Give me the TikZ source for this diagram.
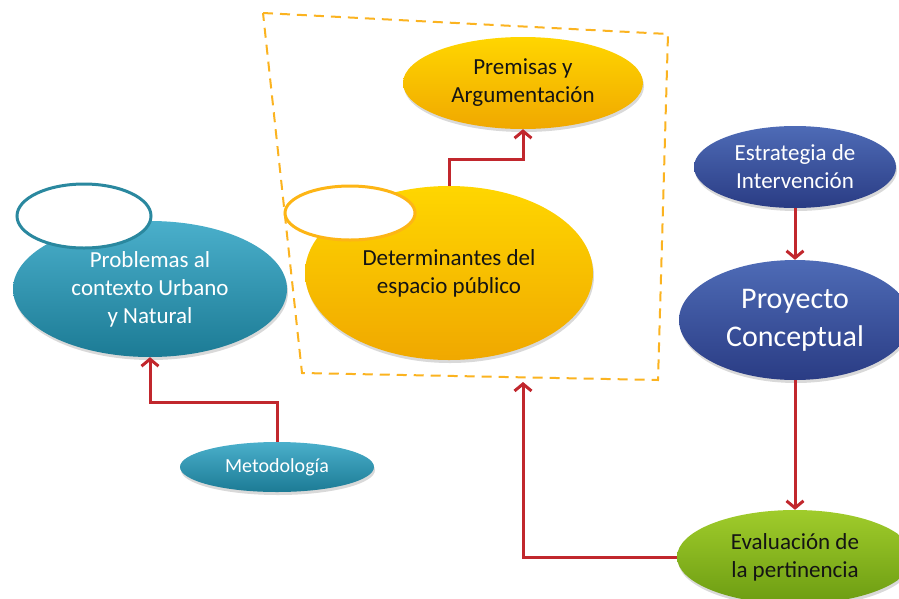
\documentclass[tikz,border=0pt]{standalone}
\usepackage{fontspec}
\setmainfont{Carlito}
\usetikzlibrary{shapes.geometric,arrows.meta,shadows}

\definecolor{tealT}{HTML}{4AAFCB}
\definecolor{tealB}{HTML}{1C7B95}
\definecolor{tealE}{HTML}{2A889F}
\definecolor{yelT}{HTML}{FFD600}
\definecolor{yelB}{HTML}{F0A800}
\definecolor{yelE}{HTML}{FDB515}
\definecolor{bluT}{HTML}{4E6BB6}
\definecolor{bluB}{HTML}{2A3C84}
\definecolor{grnT}{HTML}{A0CC2B}
\definecolor{grnB}{HTML}{6C9C12}
\definecolor{arrc}{HTML}{C1272D}
\definecolor{dashc}{HTML}{FBB320}
\definecolor{txtd}{HTML}{141414}

\begin{document}
\begin{tikzpicture}[x=1pt,y=-1pt,
  bub/.style={ellipse, inner sep=0pt, align=center,
    font=\fontsize{23}{28}\selectfont,
    drop shadow={opacity=0.3, shadow xshift=1pt, shadow yshift=-3pt}},
  tealbub/.style={bub, top color=tealT, bottom color=tealB, text=white},
  yelbub/.style={bub, top color=yelT, bottom color=yelB, text=txtd},
  blubub/.style={bub, top color=bluT, bottom color=bluB, text=white},
  grnbub/.style={bub, top color=grnT, bottom color=grnB, text=txtd},
  tagbub/.style={ellipse, inner sep=0pt, fill=white, line width=3pt},
  conn/.style={draw=arrc, line width=3pt,
    -{Straight Barb[length=7pt,width=17pt,line width=3pt]}},
  dashbox/.style={draw=dashc, line width=2pt, dash pattern=on 10pt off 7pt}
]
\useasboundingbox (0,0) rectangle (899,598);
\clip (0,0) rectangle (899,598);

% dashed frame
\draw[dashbox] (263,13) -- (668,34) -- (658,380) -- (302,373) -- cycle;

% nodes
\node[tealbub, minimum width=274pt, minimum height=136pt] (prob) at (150,289)
  {Problemas al\\contexto Urbano\\y Natural};
\node[tagbub, draw=tealE, minimum width=134pt, minimum height=64pt] (probtag) at (84,216) {};

\node[tealbub, minimum width=194pt, minimum height=50pt,
  font=\fontsize{20}{24}\selectfont] (met) at (277,467) {Metodología};

\node[yelbub, minimum width=288pt, minimum height=174pt] (det) at (449,273)
  {Determinantes del\\espacio público};
\node[tagbub, draw=yelE, minimum width=130pt, minimum height=54pt] (dettag) at (350,213) {};

\node[yelbub, minimum width=240pt, minimum height=92pt] (prem) at (523,83)
  {Premisas y\\Argumentación};

\node[blubub, minimum width=202pt, minimum height=82pt] (est) at (795,167)
  {Estrategia de\\Intervención};

\node[blubub, minimum width=232pt, minimum height=120pt,
  font=\fontsize{30}{38}\selectfont] (proy) at (795,320)
  {Proyecto\\Conceptual};

\node[grnbub, minimum width=236pt, minimum height=94pt] (eva) at (795,557)
  {Evaluación de\\la pertinencia};

% helper coordinates
\coordinate (c1) at (487,159);
\coordinate (c2) at (210,402);
\coordinate (boxin) at (523,382);

% connectors
\draw[conn] (det.north) |- (c1) -| (prem.south);
\draw[conn] (met.north) |- (c2) -| (prob.south);
\draw[conn] (est.south) -- (proy.north);
\draw[conn] (proy.south) -- (eva.north);
\draw[conn] (eva.west) -| (boxin);
\end{tikzpicture}
\end{document}
